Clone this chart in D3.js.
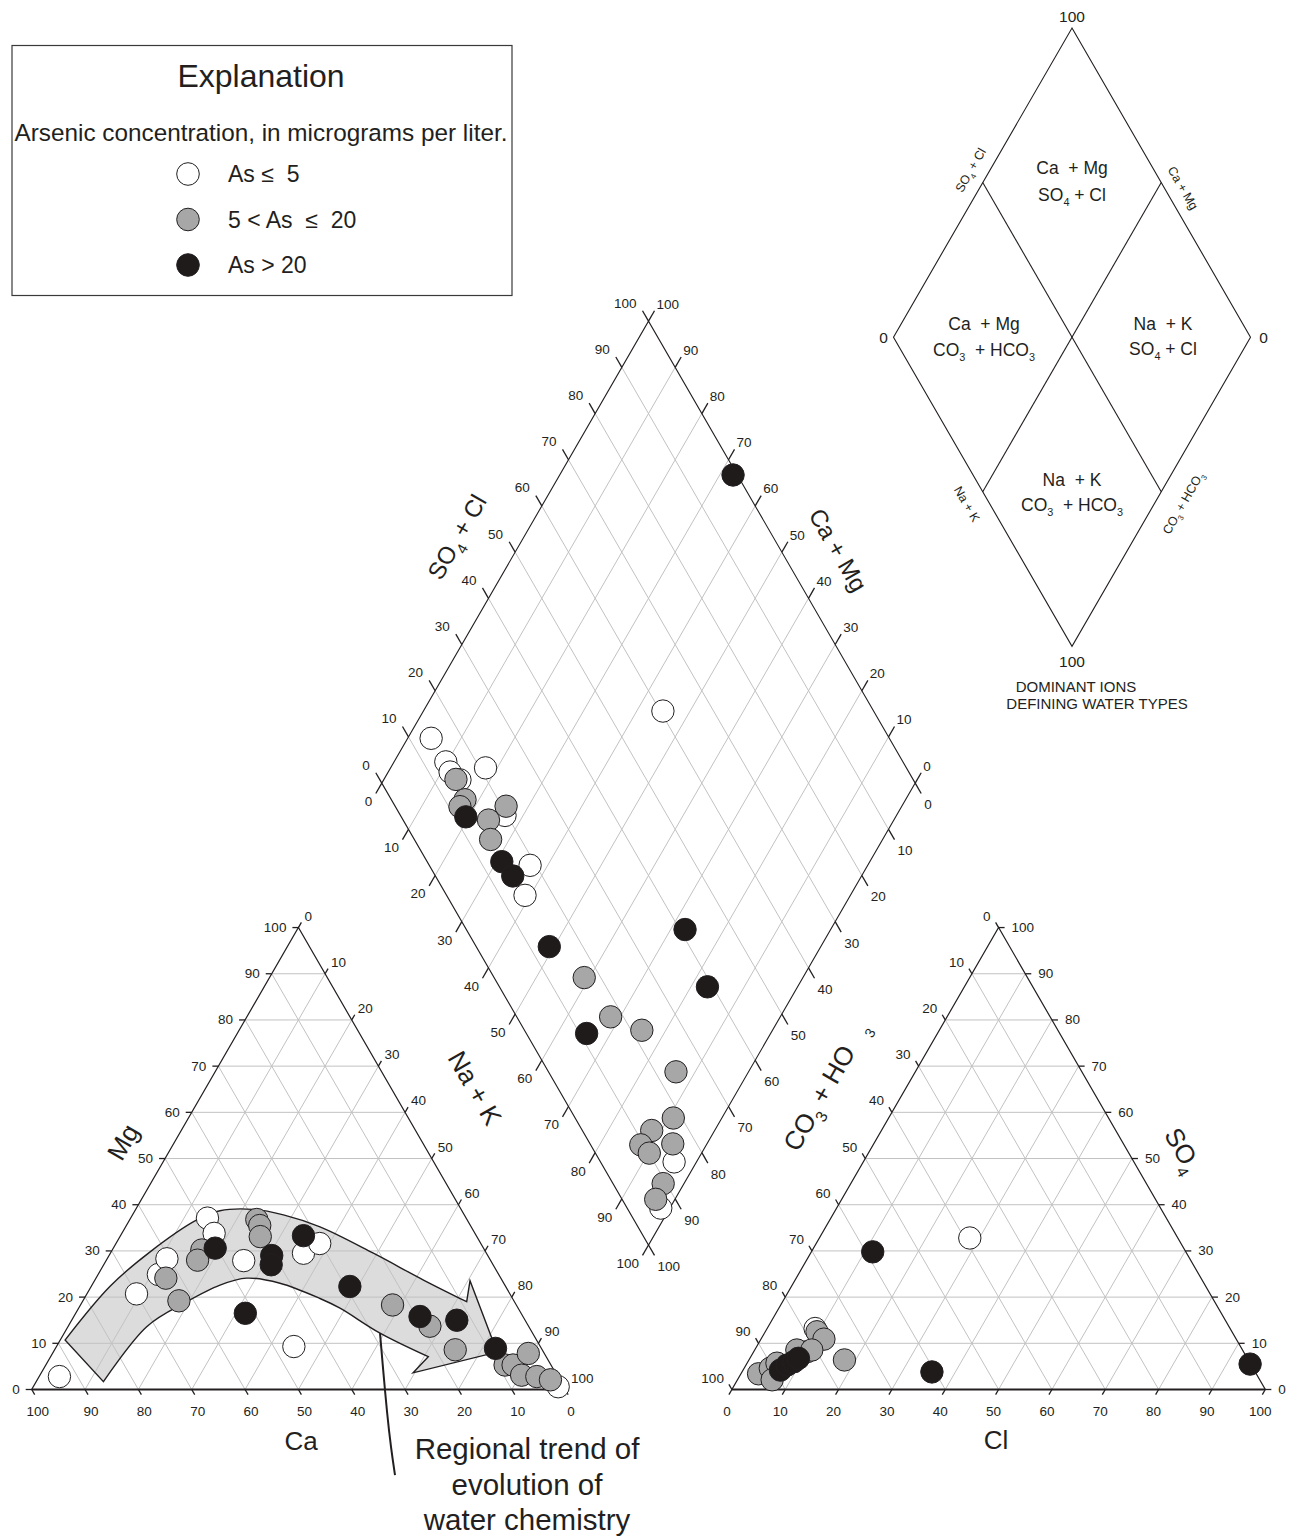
<!DOCTYPE html>
<html>
<head>
<meta charset="utf-8">
<script src="https://cdn.jsdelivr.net/npm/d3@7/dist/d3.min.js"></script>
<style>
  html, body { margin: 0; padding: 0; background: #fff; }
  svg text { font-family: "Liberation Sans", Arial, Helvetica, sans-serif; fill: #231f20; white-space: pre; }
</style>
</head>
<body>
<svg id="piper" width="1295" height="1539"></svg>
<script>
// ---------- data ----------
const asClasses = ["low", "mid", "high"];
const legendLabels = ["As \u2264  5", "5 < As  \u2264  20", "As > 20"];
const tickValues = d3.range(0, 101, 10);
const gridValues = d3.range(10, 100, 10);

// Cation triangle samples: [Mg %, Na + K %, arsenic class]
const cationPoints = [
  [2.8, 3.8, "low"], [20.7, 9.3, "low"], [24.9, 11.3, "low"], [28.3, 11.2, "low"],
  [37.1, 14.4, "low"], [33.8, 17.3, "low"], [27.9, 25.8, "low"], [9.3, 44.5, "low"],
  [29.5, 36.2, "low"], [31.6, 38.2, "low"], [0.6, 98.4, "low"],
  [24.1, 13.1, "mid"], [19.2, 18.0, "mid"], [30.2, 16.8, "mid"], [28.0, 17.1, "mid"],
  [36.8, 23.8, "mid"], [35.5, 25.0, "mid"], [33.1, 26.3, "mid"], [18.3, 58.5, "mid"],
  [13.7, 67.8, "mid"], [8.6, 75.1, "mid"], [5.3, 86.1, "mid"], [5.3, 87.6, "mid"],
  [7.8, 89.2, "mid"], [3.1, 90.3, "mid"], [2.8, 93.3, "mid"], [2.1, 96.2, "mid"],
  [30.6, 19.1, "high"], [16.5, 31.8, "high"], [29.0, 30.5, "high"], [27.0, 31.4, "high"],
  [33.3, 34.3, "high"], [22.3, 48.5, "high"], [15.8, 64.9, "high"], [15.0, 72.2, "high"],
  [8.9, 82.5, "high"]
];

// Anion triangle samples: [SO4 %, Cl %, arsenic class]
const anionPoints = [
  [32.8, 28.2, "low"], [13.2, 9.0, "low"],
  [6.4, 17.9, "mid"], [3.4, 3.3, "mid"], [4.6, 4.9, "mid"], [5.7, 5.6, "mid"],
  [2.1, 6.5, "mid"], [8.2, 10.0, "mid"], [12.5, 9.7, "mid"], [10.9, 11.8, "mid"],
  [8.55, 7.9, "mid"], [8.55, 10.7, "mid"],
  [29.8, 11.5, "high"], [3.8, 35.6, "high"], [5.5, 94.4, "high"], [4.2, 7.0, "high"],
  [5.3, 7.7, "high"], [6.0, 8.6, "high"], [6.75, 9.1, "high"]
];

// Diamond samples: [Na + K %, SO4 + Cl %, arsenic class]
const diamondPoints = [
  [4.4, 14.1, "low"], [9.7, 14.3, "low"], [11.6, 14.0, "low"], [14.3, 15.0, "low"],
  [17.8, 21.1, "low"], [26.6, 19.6, "low"], [36.7, 18.9, "low"], [39.0, 14.7, "low"],
  [95.8, 13.8, "low"], [98.3, 6.3, "low"], [44.9, 60.5, "low"],
  [13.5, 14.3, "mid"], [17.4, 13.8, "mid"], [17.2, 12.1, "mid"], [25.8, 20.8, "mid"],
  [24.0, 16.0, "mid"], [26.5, 14.3, "mid"], [59.0, 16.9, "mid"], [68.2, 17.6, "mid"],
  [75.5, 22.0, "mid"], [86.4, 23.9, "mid"], [90.9, 18.4, "mid"], [88.2, 13.0, "mid"],
  [87.7, 9.4, "mid"], [90.2, 10.1, "mid"], [93.6, 15.5, "mid"], [96.1, 9.4, "mid"],
  [96.4, 6.3, "mid"],
  [19.4, 12.1, "high"], [31.0, 14.0, "high"], [34.6, 14.5, "high"], [49.1, 13.7, "high"],
  [65.5, 11.3, "high"], [72.7, 41.0, "high"], [83.1, 39.0, "high"], [32.5, 99.2, "high"]
];

// Regional trend band on the cation triangle, [Mg %, Na + K %]
const bandUpper = [
  [10.7, 0.9], [22.3, 3.5], [29.8, 7.3], [36.7, 12.6], [38.7, 15.95], [39.0, 22.0],
  [37.8, 28.3], [35.2, 36.45], [29.5, 49.3], [23.7, 61.6], [19.0, 72.05]
];
const bandHead = [[23.55, 70.4], [8.1, 83.2], [3.6, 69.7], [7.1, 70.8]];
const bandLower = [
  [7.1, 70.8], [12.2, 59.2], [17.6, 49.0], [19.7, 44.2], [23.0, 35.05], [24.1, 28.25],
  [22.6, 24.0], [19.0, 19.56], [13.6, 14.76], [1.7, 12.6]
];
const trendLabel = ["Regional trend of", "evolution of", "water chemistry"];

// ---------- geometry ----------
const svg = d3.select("#piper");
const S = 533.4, H = S * Math.sqrt(3) / 2, gap = 166.8;
const x0 = 31.7, yBase = 1389.5;
const frac = d3.scaleLinear().domain([0, 100]).range([0, 1]);
const ax0 = x0 + S + gap;

const cat = (mg, nak) => [x0 + S * (frac(nak) + frac(mg) / 2), yBase - H * frac(mg)];
const an = (so4, cl) => [ax0 + S * (frac(cl) + frac(so4) / 2), yBase - H * frac(so4)];
const dB = [x0 + S + gap / 2, yBase - gap / 2 * Math.sqrt(3)];
const dL = [dB[0] - S / 2, dB[1] - H];
const dia = (nak, s) => [dL[0] + S / 2 * (frac(nak) + frac(s)), dL[1] + H * (frac(nak) - frac(s))];

const fillOf = d3.scaleOrdinal().domain(asClasses).range(["#ffffff", "#a7a7a7", "#1f1b1b"]);
const INK = "#231f20", GRID = "#c2c2c2";
const C60 = 0.5, S60 = Math.sqrt(3) / 2;

const gGrid = svg.append("g");
const gLines = svg.append("g");
const gText = svg.append("g");

function seg(g, a, b, color, w) {
  g.append("line").attr("x1", a[0]).attr("y1", a[1]).attr("x2", b[0]).attr("y2", b[1])
    .attr("stroke", color).attr("stroke-width", w);
}
function label(g, p, dx, dy, txt, anchor, size) {
  g.append("text").attr("x", p[0] + dx).attr("y", p[1] + dy)
    .attr("text-anchor", anchor).attr("font-size", size).text(txt);
}
function axis(g, pointOf, dir, len, lab, anchor) {
  tickValues.forEach(v => {
    const p = pointOf(v);
    seg(gLines, p, [p[0] + dir[0] * len, p[1] + dir[1] * len], INK, 1.3);
    label(g, p, lab[0], lab[1], String(v), anchor, 13.5);
  });
}
function rich(g, x, y, rot, parts, size, anchor) {
  const t = g.append("text").attr("transform", `translate(${x},${y}) rotate(${rot})`)
    .attr("text-anchor", anchor || "middle").attr("font-size", size).attr("y", size * 0.35);
  let inSub = false;
  parts.forEach(([str, sub]) => {
    const ts = t.append("tspan").text(str);
    if (sub) ts.attr("font-size", size * 0.62);
    if (sub && !inSub) ts.attr("dy", size * 0.3);
    if (!sub && inSub) ts.attr("dy", -size * 0.3);
    inSub = sub;
  });
  return t;
}

// ---------- grids ----------
gridValues.forEach(v => {
  seg(gGrid, cat(v, 0), cat(v, 100 - v), GRID, 1);
  seg(gGrid, cat(0, v), cat(100 - v, v), GRID, 1);
  seg(gGrid, cat(0, 100 - v), cat(100 - v, 0), GRID, 1);
  seg(gGrid, an(v, 0), an(v, 100 - v), GRID, 1);
  seg(gGrid, an(0, v), an(100 - v, v), GRID, 1);
  seg(gGrid, an(100 - v, 0), an(0, 100 - v), GRID, 1);
  seg(gGrid, dia(v, 0), dia(v, 100), GRID, 1);
  seg(gGrid, dia(0, v), dia(100, v), GRID, 1);
});

// ---------- regional trend band ----------
const toCat = d => cat(d[0], d[1]);
const smooth = d3.line().curve(d3.curveCatmullRom.alpha(0.5));
const straight = d3.line();
const bandPath = smooth(bandUpper.map(toCat)) +
  straight(bandHead.map(toCat)).replace(/^M/, "L") +
  smooth(bandLower.map(toCat)).replace(/^M/, "L") + "Z";
svg.insert("path", "g").attr("d", bandPath).attr("fill", "#dcdcdc").attr("stroke", "none");
gLines.append("path").attr("d", bandPath).attr("fill", "none").attr("stroke", INK).attr("stroke-width", 1.4);

// ---------- outlines ----------
const triPath = pts => "M" + pts.map(p => p.join(",")).join("L") + "Z";
gLines.append("path").attr("d", triPath([cat(0, 0), cat(0, 100), cat(100, 0)]))
  .attr("fill", "none").attr("stroke", INK).attr("stroke-width", 1.2);
seg(gLines, cat(0, 0), cat(0, 100), INK, 2.2);
gLines.append("path").attr("d", triPath([an(0, 0), an(0, 100), an(100, 0)]))
  .attr("fill", "none").attr("stroke", INK).attr("stroke-width", 1.2);
seg(gLines, an(0, 0), an(0, 100), INK, 2.2);
gLines.append("path").attr("d", triPath([dia(0, 0), dia(100, 0), dia(100, 100), dia(0, 100)]))
  .attr("fill", "none").attr("stroke", INK).attr("stroke-width", 1.1);

// ---------- ticks and tick labels ----------
// cation triangle
axis(gText, v => cat(0, 100 - v), [C60, S60], 6, [6, 26], "middle");      // Ca
axis(gText, v => cat(v, 0), [-1, 0], 6, [-12, 4.5], "end");               // Mg
axis(gText, v => cat(100 - v, v), [C60, -S60], 6, [6, -7], "start");      // Na + K
// anion triangle
axis(gText, v => an(0, v), [-C60, S60], 6, [-5, 26], "middle");           // Cl
axis(gText, v => an(100 - v, 0), [-C60, -S60], 6, [-8, -7], "end");       // CO3 + HCO3
axis(gText, v => an(v, 100 - v), [1, 0], 6, [13, 4.5], "start");          // SO4
// diamond
axis(gText, v => dia(0, v), [-C60, -S60], 12, [-12, -13.5], "end");
axis(gText, v => dia(v, 0), [-C60, S60], 12, [-9.5, 23], "end");
axis(gText, v => dia(100 - v, 100), [C60, -S60], 12, [8, -12.5], "start");
axis(gText, v => dia(100, 100 - v), [C60, S60], 12, [9, 26], "start");

// ---------- axis titles ----------
rich(gText, 123, 1142, -60, [["Mg", false]], 26);
rich(gText, 301, 1441, 0, [["Ca", false]], 26);
rich(gText, 475, 1088, 60, [["Na + K", false]], 26);
rich(gText, 996, 1440, 0, [["Cl", false]], 26);
rich(gText, 819, 1098, -60, [["CO", false], ["3", true], [" + HO", false]], 26);
rich(gText, 870, 1033, -60, [["3", false]], 14);
rich(gText, 1183, 1150, 60, [["SO", false], ["4", true]], 26);
rich(gText, 457, 537, -60, [["SO", false], ["4", true], [" + Cl", false]], 24);
rich(gText, 838, 550, 60, [["Ca + Mg", false]], 24);

// ---------- sample points ----------
const order = d => asClasses.indexOf(d[2]);
const gPts = svg.append("g");
function plotPoints(data, proj) {
  gPts.selectAll(null).data(data.slice().sort((a, b) => order(a) - order(b))).join("circle")
    .attr("cx", d => proj(d[0], d[1])[0]).attr("cy", d => proj(d[0], d[1])[1])
    .attr("r", 11.2).attr("fill", d => fillOf(d[2])).attr("stroke", INK).attr("stroke-width", 1);
}
plotPoints(cationPoints, cat);
plotPoints(anionPoints, an);
plotPoints(diamondPoints, dia);

// ---------- trend annotation ----------
const lead0 = cat(12.2, 59.2);
const leader = d3.line().curve(d3.curveBasis)([
  lead0, [lead0[0] + 3, lead0[1] + 35], [lead0[0] + 7, lead0[1] + 80],
  [lead0[0] + 11, lead0[1] + 115], [lead0[0] + 15, lead0[1] + 142]
]);
svg.append("path").attr("d", leader).attr("fill", "none").attr("stroke", INK).attr("stroke-width", 2);
trendLabel.forEach((t, i) => {
  svg.append("text").attr("x", 527).attr("y", 1459 + i * 35.5).attr("text-anchor", "middle")
    .attr("font-size", 29.5).text(t);
});

// ---------- explanation box ----------
const leg = svg.append("g");
leg.append("rect").attr("x", 12).attr("y", 45.5).attr("width", 500).attr("height", 250)
  .attr("fill", "#fff").attr("stroke", "#3a3a3a").attr("stroke-width", 1.2);
leg.append("text").attr("x", 261).attr("y", 86.5).attr("text-anchor", "middle").attr("font-size", 32).text("Explanation");
leg.append("text").attr("x", 261).attr("y", 140.5).attr("text-anchor", "middle").attr("font-size", 24.3)
  .text("Arsenic concentration, in micrograms per liter.");
asClasses.forEach((c, i) => {
  const y = 174 + i * 45.5;
  leg.append("circle").attr("cx", 188).attr("cy", y).attr("r", 11.3)
    .attr("fill", fillOf(c)).attr("stroke", INK).attr("stroke-width", 1);
  leg.append("text").attr("x", 228).attr("y", y + 8).attr("font-size", 23).text(legendLabels[i]);
});

// ---------- dominant ion key diamond ----------
const key = svg.append("g");
const kc = 1072, kTop = 28, kHw = 178.5, kHh = kHw * Math.sqrt(3);
const kT = [kc, kTop], kL = [kc - kHw, kTop + kHh], kB = [kc, kTop + 2 * kHh], kR = [kc + kHw, kTop + kHh];
const mid = (a, b) => [(a[0] + b[0]) / 2, (a[1] + b[1]) / 2];
key.append("path").attr("d", triPath([kT, kR, kB, kL])).attr("fill", "none").attr("stroke", INK).attr("stroke-width", 1.1);
seg(key, mid(kT, kL), mid(kR, kB), INK, 1.1);
seg(key, mid(kT, kR), mid(kL, kB), INK, 1.1);
label(key, kT, 0, -6, "100", "middle", 15.5);
label(key, kB, 0, 21, "100", "middle", 15.5);
label(key, kL, -10, 6, "0", "middle", 15.5);
label(key, kR, 13, 6, "0", "middle", 15.5);
const regions = [
  [[kc, 168], [["Ca  + Mg", false]], [kc, 195], [["SO", false], ["4", true], [" + Cl", false]]],
  [[984, 324], [["Ca  + Mg", false]], [984, 350], [["CO", false], ["3", true], ["  + HCO", false], ["3", true]]],
  [[1163, 324], [["Na  + K", false]], [1163, 349], [["SO", false], ["4", true], [" + Cl", false]]],
  [[kc, 480], [["Na  + K", false]], [kc, 505], [["CO", false], ["3", true], ["  + HCO", false], ["3", true]]]
];
regions.forEach(r => {
  rich(key, r[0][0], r[0][1], 0, r[1], 17.5);
  rich(key, r[2][0], r[2][1], 0, r[3], 17.5);
});
rich(key, 970.5, 170, -60, [["SO", false], ["4", true], [" + Cl", false]], 12.5);
rich(key, 1183, 188, 60, [["Ca + Mg", false]], 12.5);
rich(key, 967, 504, 60, [["Na + K", false]], 12.5);
rich(key, 1183, 503, -60, [["CO", false], ["3", true], [" + HCO", false], ["3", true]], 12.5);
key.append("text").attr("x", 1076).attr("y", 692).attr("text-anchor", "middle").attr("font-size", 15).text("DOMINANT IONS");
key.append("text").attr("x", 1097).attr("y", 709).attr("text-anchor", "middle").attr("font-size", 15).text("DEFINING WATER TYPES");
</script>
</body>
</html>
